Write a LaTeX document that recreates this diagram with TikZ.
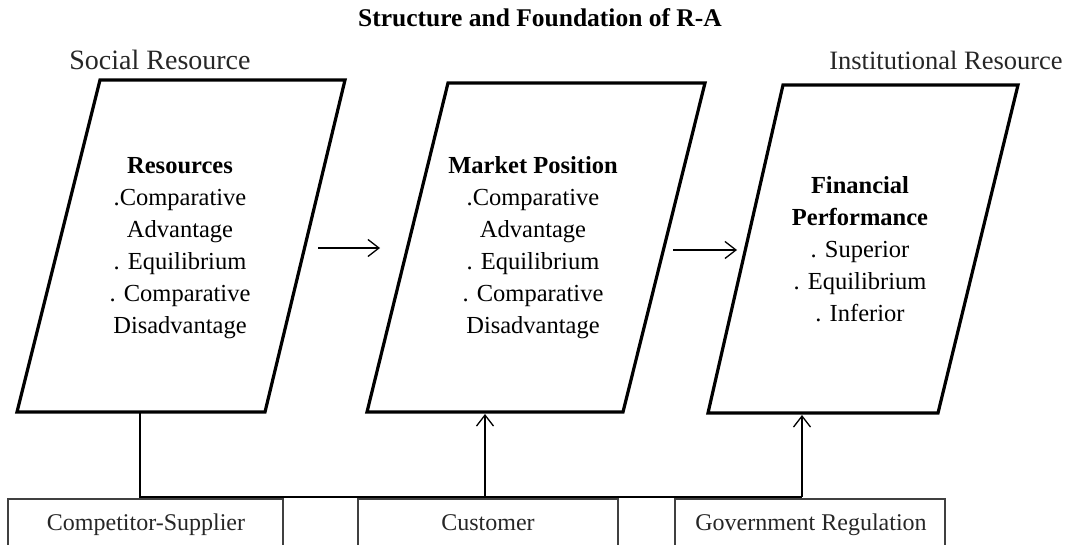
\documentclass[tikz,border=0pt]{standalone}
\usepackage{fontspec}
\setmainfont{Liberation Serif}
\usetikzlibrary{arrows.meta}
\begin{document}
\begin{tikzpicture}[x=1pt,y=-1pt,
  para/.style={line width=3.2pt, line join=miter},
  flow/.style={line width=1.3pt, -{Straight Barb[length=11pt,width=17pt,line width=1.3pt]}},
  link/.style={line width=1.3pt},
  srcbox/.style={line width=1.3pt, draw=black!75},
  body/.style={font=\fontsize{24.5}{32}\selectfont, align=center, inner sep=0pt},
  boxtext/.style={font=\fontsize{24}{28}\selectfont, inner sep=0pt, text=black!85, anchor=base},
  side/.style={font=\fontsize{28}{32}\selectfont, inner sep=0pt, text=black!85},
  heading/.style={font=\bfseries\fontsize{25.5}{28}\selectfont, inner sep=0pt}]
\useasboundingbox (0,0) rectangle (1069,545);
% parallelogram corners
\coordinate (a1) at (100,80);  \coordinate (a2) at (345,80);
\coordinate (a3) at (265,412); \coordinate (a4) at (17,412);
\coordinate (b1) at (448,83);  \coordinate (b2) at (705,83);
\coordinate (b3) at (623,412); \coordinate (b4) at (367,412);
\coordinate (c1) at (783,85);  \coordinate (c2) at (1018,85);
\coordinate (c3) at (938,413); \coordinate (c4) at (708,413);
\draw[para] (a1) -- (a2) -- (a3) -- (a4) -- cycle;
\draw[para] (b1) -- (b2) -- (b3) -- (b4) -- cycle;
\draw[para] (c1) -- (c2) -- (c3) -- (c4) -- cycle;
% titles
\node[heading] (title) at (540,18) {Structure and Foundation of R-A};
\node[side] (social) at (160,60) {Social Resource};
\node[side, font=\fontsize{26.5}{32}\selectfont] (inst) at (946,60) {Institutional Resource};
% contents
\node[body] (res) at (180,248) {\textbf{Resources}\\.Comparative\\Advantage\\. Equilibrium\\. Comparative\\Disadvantage};
\node[body] (mkt) at (533,248) {\textbf{Market Position}\\.Comparative\\Advantage\\. Equilibrium\\. Comparative\\Disadvantage};
\node[body] (fin) at (860,249) {\textbf{Financial}\\\textbf{Performance}\\. Superior\\. Equilibrium\\. Inferior};
% horizontal arrows
\coordinate (h1s) at (318,248); \coordinate (h1e) at (380,248);
\coordinate (h2s) at (673,250); \coordinate (h2e) at (737,250);
\draw[flow] (h1s) -- (h1e);
\draw[flow] (h2s) -- (h2e);
% bottom boxes
\draw[srcbox] (8,548) -- (8,499) -- (283,499) -- (283,548);
\draw[srcbox] (358,548) -- (358,499) -- (618,499) -- (618,548);
\draw[srcbox] (675,548) -- (675,499) -- (945,499) -- (945,548);
\node[boxtext] (comp) at (146,530) {Competitor-Supplier};
\node[boxtext] (cust) at (488,530) {Customer};
\node[boxtext] (gov) at (811,530) {Government Regulation};
% connectors
\coordinate (v1t) at (140,412); \coordinate (v1b) at (140,497);
\coordinate (v2t) at (485,414); \coordinate (v2b) at (485,497);
\coordinate (v3t) at (802,415); \coordinate (v3b) at (802,497);
\draw[link] (v1t) -- (v1b) -- (v3b);
\draw[flow] (v2b) -- (v2t);
\draw[flow] (v3b) -- (v3t);
\end{tikzpicture}
\end{document}
